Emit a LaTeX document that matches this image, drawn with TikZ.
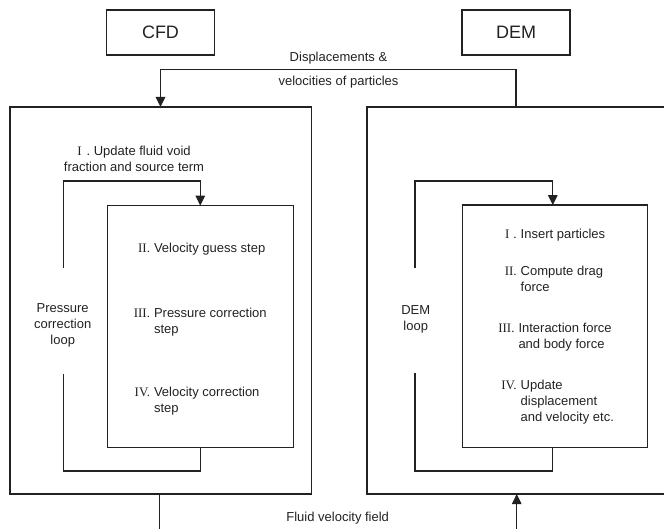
\documentclass[tikz,border=0pt]{standalone}
\usepackage{fontspec}
\setmainfont{Liberation Sans}
\newfontfamily\rmnum{Liberation Serif}
\usetikzlibrary{arrows.meta,calc}
\definecolor{ink}{HTML}{222222}
\newcommand{\stepitem}[2]{\begin{tabular}[t]{@{}l@{}}\llap{\rmnum #1\hspace{4pt}}#2\end{tabular}}
\begin{document}
\begin{tikzpicture}[x=1pt,y=-1pt,
  every node/.style={inner sep=0pt, outer sep=0pt, text=ink},
  txt/.style={font=\fontsize{13}{16}\selectfont},
  ttl/.style={draw=ink, line width=1.2pt, font=\fontsize{18}{20}\selectfont, minimum width=108pt, minimum height=45pt},
  frame/.style={draw=ink, line width=1.2pt},
  wire/.style={draw=ink, line width=1.2pt},
  arr/.style={wire, -{Triangle[width=9.5pt,length=10pt]}}]
\useasboundingbox (0,0) rectangle (664,529);

% titles
\node[ttl] (cfdtitle) at (160.5,32.5) {CFD};
\node[ttl] (demtitle) at (516,32.5) {DEM};

% frames
\node[frame, minimum width=301.5pt, minimum height=387pt] (cfdouter) at (160.75,300.5) {};
\node[frame, minimum width=340pt, minimum height=387pt] (demouter) at (537,300.5) {};
\node[frame, minimum width=186pt, minimum height=242pt] (cfdinner) at (200.3,326.7) {};
\node[frame, minimum width=185pt, minimum height=242.7pt] (deminner) at (554.8,326.4) {};

% top connector
\draw[arr] (demtitle.south |- demouter.north) -- ++(0,-37.3) -| (cfdtitle.south |- cfdouter.north);
\node[txt, anchor=base] (disp) at (338.5,61.5) {\begin{tabular}[t]{@{}c@{}}Displacements \&\\[8pt] velocities of particles\end{tabular}};

% CFD loop
\coordinate (cla) at (63.3,268.3);
\coordinate (clb) at (63.3,374.3);
\draw[arr] (cla) -- ++(0,-87.3) -| (cfdinner.north);
\draw[wire] (cfdinner.south) -- ++(0,23.3) -| (clb);

% DEM loop
\coordinate (dla) at (415,268.3);
\coordinate (dlb) at (415,372.7);
\draw[arr] (dla) -- ++(0,-87.3) -| ($(deminner.north)+(-2,0)$);
\draw[wire] ($(deminner.south)+(-2,0)$) -- ++(0,23.3) -| (dlb);

% bottom connector
\coordinate (fvl) at (159.3,535);
\coordinate (fvr) at (516.7,535);
\draw[wire] (fvl |- cfdouter.south) -- (fvl);
\draw[arr] (fvr) -- (fvr |- demouter.south);
\node[txt, anchor=base] (fvf) at (337.7,521.2) {Fluid velocity field};

% CFD texts
\node[txt, anchor=base] (c1) at (134,155.5) {\begin{tabular}[t]{@{}c@{}}{\rmnum I}\hspace{5pt}. Update fluid void\\ fraction and source term\end{tabular}};
\node[txt, anchor=base] (pcl) at (62.7,312.2) {\begin{tabular}[t]{@{}c@{}}Pressure\\correction\\loop\end{tabular}};
\node[txt, anchor=base west] (c2) at (154,252.8) {\stepitem{II.}{Velocity guess step}};
\node[txt, anchor=base west] (c3) at (154,317.2) {\stepitem{III.}{Pressure correction\\step}};
\node[txt, anchor=base west] (c4) at (154,396.8) {\stepitem{IV.}{Velocity correction\\step}};

% DEM texts
\node[txt, anchor=base] (dml) at (415.7,314.5) {\begin{tabular}[t]{@{}c@{}}DEM\\loop\end{tabular}};
\node[txt, anchor=base west] (d1) at (520.7,238.8) {\stepitem{I\hspace{4pt}.}{Insert particles}};
\node[txt, anchor=base west] (d2) at (520.7,275.5) {\stepitem{II.}{Compute drag\\force}};
\node[txt, anchor=base west] (d3) at (518.5,332.2) {\stepitem{III.}{Interaction force\\and body force}};
\node[txt, anchor=base west] (d4) at (520.7,389.5) {\stepitem{IV.}{Update\\displacement\\and velocity etc.}};
\end{tikzpicture}
\end{document}
